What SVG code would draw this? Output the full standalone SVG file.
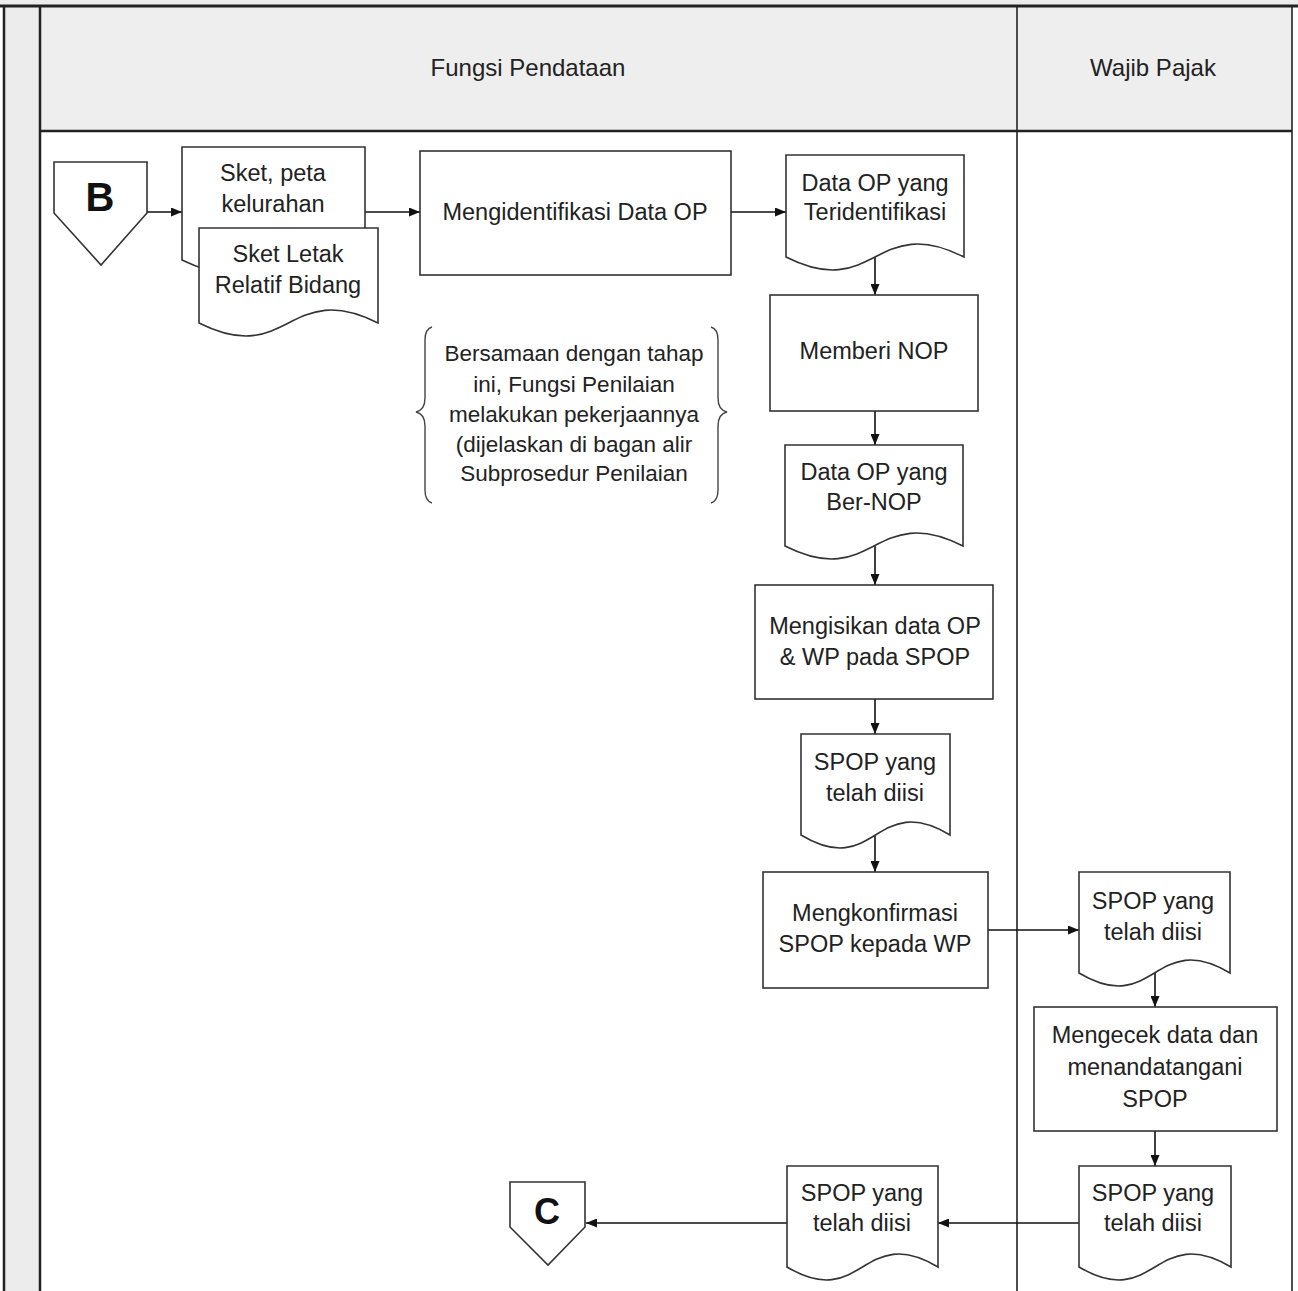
<svg xmlns="http://www.w3.org/2000/svg" width="1298" height="1291" viewBox="0 0 1298 1291">
<style>
text{font-family:"Liberation Sans",Arial,sans-serif;fill:#222;text-anchor:middle}
.t{font-size:23.5px}
.h{font-size:24px}
.a{font-size:22.5px}
.lbl{font-size:40px;font-weight:bold;fill:#111}
.shape{fill:#fff;stroke:#333;stroke-width:1.6}
.conn{fill:none;stroke:#111;stroke-width:1.6}
.brace{fill:none;stroke:#444;stroke-width:1.4}
.lane{stroke:#222;fill:none}
</style>
<defs>
<marker id="arr" markerUnits="userSpaceOnUse" markerWidth="11" markerHeight="9" refX="11" refY="4.5" orient="auto">
<path d="M0,0 L11,4.5 L0,9 Z" fill="#111"/>
</marker>
</defs>
<rect x="0" y="0" width="1298" height="1291" fill="#fff"/>
<g id="pool">
<rect x="0" y="0" width="1298" height="7" fill="#ececec"/>
<rect x="4" y="7" width="36" height="1284" fill="#ececec"/>
<rect x="40" y="7" width="1252" height="124" fill="#eeeeee"/>
<line class="lane" x1="0" y1="6" x2="1298" y2="6" stroke-width="3"/>
<line class="lane" x1="4" y1="6" x2="4" y2="1291" stroke-width="2.5"/>
<line class="lane" x1="40" y1="6" x2="40" y2="1291" stroke-width="2.5"/>
<line class="lane" x1="40" y1="131" x2="1292" y2="131" stroke-width="2.5"/>
<line class="lane" x1="1017" y1="6" x2="1017" y2="1291" stroke-width="1.6"/>
<line class="lane" x1="1292" y1="6" x2="1292" y2="1291" stroke-width="1.6"/>
<text class="h" x="528" y="76">Fungsi Pendataan</text>
<text class="h" x="1153" y="76">Wajib Pajak</text>
</g>
<g id="connectors">
<line class="conn" x1="147" y1="212" x2="182" y2="212" marker-end="url(#arr)"/>
<line class="conn" x1="365" y1="212" x2="420" y2="212" marker-end="url(#arr)"/>
<line class="conn" x1="731" y1="212" x2="786" y2="212" marker-end="url(#arr)"/>
<line class="conn" x1="875" y1="257" x2="875" y2="295" marker-end="url(#arr)"/>
<line class="conn" x1="875" y1="411" x2="875" y2="445" marker-end="url(#arr)"/>
<line class="conn" x1="875" y1="546" x2="875" y2="585" marker-end="url(#arr)"/>
<line class="conn" x1="875" y1="699" x2="875" y2="734" marker-end="url(#arr)"/>
<line class="conn" x1="875" y1="835" x2="875" y2="872" marker-end="url(#arr)"/>
<line class="conn" x1="988" y1="930" x2="1079" y2="930" marker-end="url(#arr)"/>
<line class="conn" x1="1155" y1="973" x2="1155" y2="1007" marker-end="url(#arr)"/>
<line class="conn" x1="1155" y1="1131" x2="1155" y2="1166" marker-end="url(#arr)"/>
<line class="conn" x1="1079" y1="1223" x2="938" y2="1223" marker-end="url(#arr)"/>
<line class="conn" x1="787" y1="1223" x2="586" y2="1223" marker-end="url(#arr)"/>
</g>
<g id="node-B">
<path class="shape" d="M54,162 H147 V213 L101,265 L54,213 Z"/>
<text class="lbl" x="100" y="211">B</text>
</g>
<g id="node-sket-peta">
<path class="shape" d="M182,147 H365 V260 C273.5,215 273.5,305 182,260 Z"/>
<text class="t" x="273" y="181">Sket, peta</text>
<text class="t" x="273" y="212">kelurahan</text>
</g>
<g id="node-sket-letak">
<path class="shape" d="M199,228 H378 V323 C288.5,278 288.5,368 199,323 Z"/>
<text class="t" x="288" y="262">Sket Letak</text>
<text class="t" x="288" y="293">Relatif Bidang</text>
</g>
<g id="node-mengidentifikasi">
<rect class="shape" x="420" y="151" width="311" height="124"/>
<text class="t" x="575" y="220">Mengidentifikasi Data OP</text>
</g>
<g id="node-data-op-teridentifikasi">
<path class="shape" d="M786,155 H964 V257 C875,212 875,302 786,257 Z"/>
<text class="t" x="875" y="191">Data OP yang</text>
<text class="t" x="875" y="220">Teridentifikasi</text>
</g>
<g id="node-note">
<path class="brace" d="M432,327 Q425,329 425,340 V398 Q425,410 416,412 Q425,414 425,426 V490 Q425,501 432,503"/>
<path class="brace" d="M711,327 Q718,329 718,340 V398 Q718,410 727,412 Q718,414 718,426 V490 Q718,501 711,503"/>
<text class="a" x="574" y="361">Bersamaan dengan tahap</text>
<text class="a" x="574" y="392">ini, Fungsi Penilaian</text>
<text class="a" x="574" y="422">melakukan pekerjaannya</text>
<text class="a" x="574" y="452">(dijelaskan di bagan alir</text>
<text class="a" x="574" y="481">Subprosedur Penilaian</text>
</g>
<g id="node-memberi-nop">
<rect class="shape" x="770" y="295" width="208" height="116"/>
<text class="t" x="874" y="359">Memberi NOP</text>
</g>
<g id="node-data-op-bernop">
<path class="shape" d="M785,445 H963 V546 C874,501 874,591 785,546 Z"/>
<text class="t" x="874" y="480">Data OP yang</text>
<text class="t" x="874" y="510">Ber-NOP</text>
</g>
<g id="node-mengisikan">
<rect class="shape" x="755" y="585" width="238" height="114"/>
<text class="t" x="875" y="634">Mengisikan data OP</text>
<text class="t" x="875" y="665">&amp; WP pada SPOP</text>
</g>
<g id="node-spop-1">
<path class="shape" d="M801,734 H950 V835 C875.5,790 875.5,880 801,835 Z"/>
<text class="t" x="875" y="770">SPOP yang</text>
<text class="t" x="875" y="801">telah diisi</text>
</g>
<g id="node-mengkonfirmasi">
<rect class="shape" x="763" y="872" width="225" height="116"/>
<text class="t" x="875" y="921">Mengkonfirmasi</text>
<text class="t" x="875" y="952">SPOP kepada WP</text>
</g>
<g id="node-spop-2">
<path class="shape" d="M1079,872 H1230 V973 C1154.5,928 1154.5,1018 1079,973 Z"/>
<text class="t" x="1153" y="909">SPOP yang</text>
<text class="t" x="1153" y="940">telah diisi</text>
</g>
<g id="node-mengecek">
<rect class="shape" x="1034" y="1007" width="243" height="124"/>
<text class="t" x="1155" y="1043">Mengecek data dan</text>
<text class="t" x="1155" y="1075">menandatangani</text>
<text class="t" x="1155" y="1107">SPOP</text>
</g>
<g id="node-spop-3">
<path class="shape" d="M1079,1166 H1231 V1267 C1155,1222 1155,1312 1079,1267 Z"/>
<text class="t" x="1153" y="1201">SPOP yang</text>
<text class="t" x="1153" y="1231">telah diisi</text>
</g>
<g id="node-spop-4">
<path class="shape" d="M787,1166 H938 V1267 C862.5,1222 862.5,1312 787,1267 Z"/>
<text class="t" x="862" y="1201">SPOP yang</text>
<text class="t" x="862" y="1231">telah diisi</text>
</g>
<g id="node-C">
<path class="shape" d="M510,1182 H585 V1227 L548,1265 L510,1227 Z"/>
<text class="lbl" x="547" y="1224" style="font-size:36px">C</text>
</g>
</svg>
